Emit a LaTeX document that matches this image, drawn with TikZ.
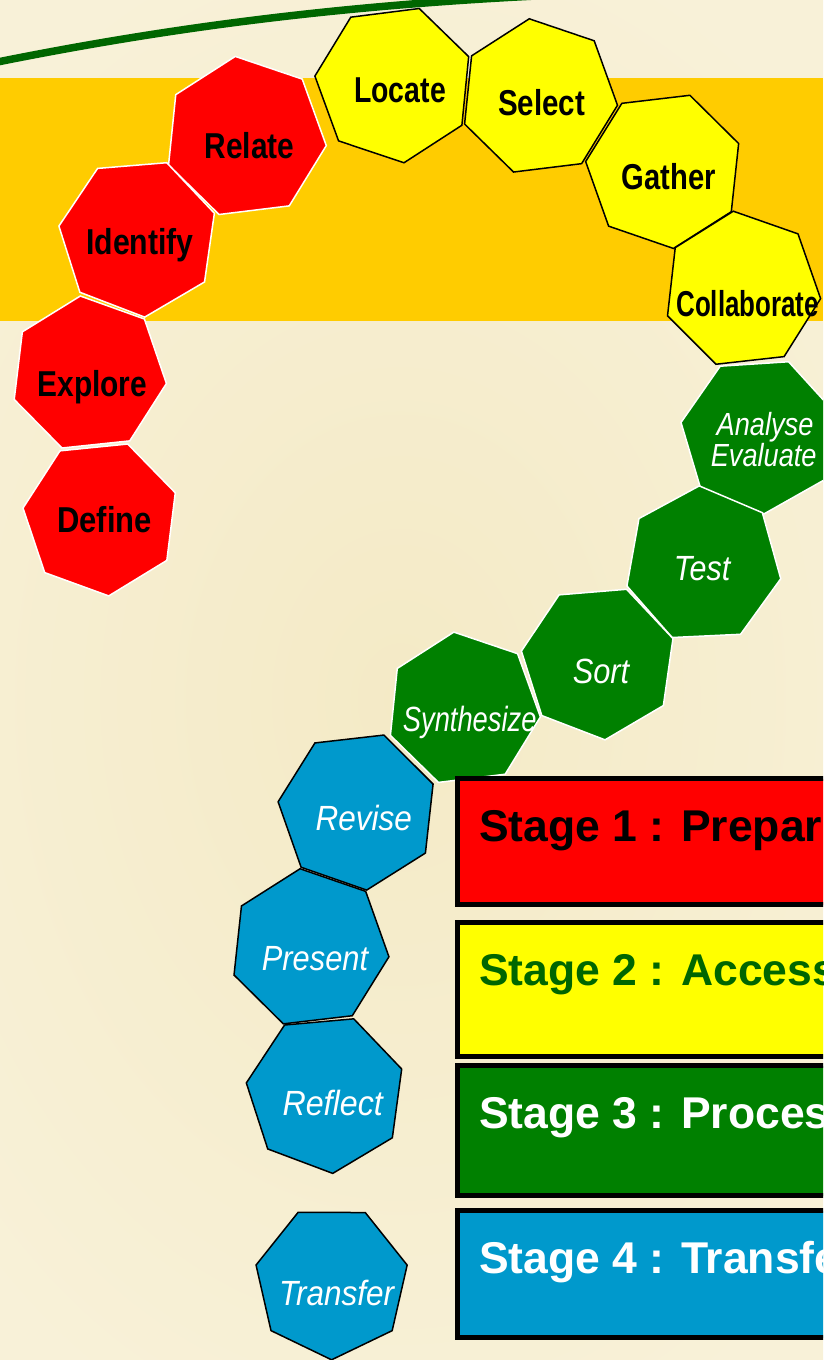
\documentclass[tikz,border=0pt]{standalone}
\usepackage{fontspec}
\setmainfont{Liberation Sans}
\usepackage{graphicx}
\usetikzlibrary{shapes.geometric}
\definecolor{bg}{RGB}{248,241,216}
\definecolor{bgin}{RGB}{244,234,198}
\definecolor{band}{RGB}{255,204,0}
\definecolor{curvegreen}{RGB}{0,102,0}
\definecolor{hred}{RGB}{255,0,0}
\definecolor{hyellow}{RGB}{255,255,0}
\definecolor{hgreen}{RGB}{0,128,0}
\definecolor{hblue}{RGB}{0,153,204}
\definecolor{darkgreentext}{RGB}{0,102,0}
\tikzset{
  hept/.style={regular polygon, regular polygon sides=7, inner sep=0pt, line width=1.5pt, line join=miter},
  prep/.style={hept, fill=hred, draw=white},
  acc/.style={hept, fill=hyellow, draw=black},
  proc/.style={hept, fill=hgreen, draw=white},
  trans/.style={hept, fill=hblue, draw=black},
  blacklab/.style={anchor=base, inner sep=0pt, font=\fontsize{36}{36}\selectfont\bfseries, text=black},
  whitelab/.style={anchor=base, inner sep=0pt, font=\fontsize{35}{35}\selectfont\itshape, text=white},
  stagebox/.style={line width=5pt, draw=black},
  stagetext/.style={anchor=base west, inner sep=0pt, font=\fontsize{44.5}{44.5}\selectfont\bfseries},
}
\begin{document}
\begin{tikzpicture}[x=1pt, y=-1pt]
\useasboundingbox (0,0) rectangle (823,1360);
\clip (0,0) rectangle (823,1360);
% background
\fill[bg] (0,0) rectangle (823,1360);
\shade[inner color=bgin, outer color=bg] (-200,-100) rectangle (1000,1500);
\fill[band] (0,78) rectangle (823,321);
% green arc
\draw[curvegreen, line width=7.5pt] (-10,63.5) .. controls (180,25) and (360,3) .. (580,-6);
% Stage 1 : preparation (red)
\node[prep, minimum size=163pt, shape border rotate=7]   (relate)   at (245.2,137.3) {};
\node[prep, minimum size=160pt, shape border rotate=-21] (identify) at (138.1,237.4) {};
\node[prep, minimum size=157pt, shape border rotate=6]   (explore)  at (88.5,374.1) {};
\node[prep, minimum size=157pt, shape border rotate=-20] (define)   at (100.9,517.8) {};
% Stage 2 : access (yellow)
\node[acc, minimum size=159pt, shape border rotate=-18.5] (locate)  at (394,83.9) {};
\node[acc, minimum size=158pt, shape border rotate=7]     (select)  at (538.9,97.2) {};
\node[acc, minimum size=158pt, shape border rotate=-19]   (gather)  at (664.2,170) {};
\node[acc, minimum size=158pt, shape border rotate=6.4]   (collab)  at (742.1,289.7) {};
% Stage 3 : process (green)
\node[proc, minimum size=158pt, shape border rotate=-22] (analyse) at (759,435) {};
\node[proc, minimum size=158pt, shape border rotate=2.7] (test)    at (703,564.8) {};
\node[proc, minimum size=156pt, shape border rotate=-21] (sort)    at (598.6,662.1) {};
\node[proc, minimum size=155pt, shape border rotate=7]   (synth)   at (463.3,709) {};
% Stage 4 : transfer (blue)
\node[trans, minimum size=160pt, shape border rotate=-19.2] (revise)   at (357.6,810.6) {};
\node[trans, minimum size=160pt, shape border rotate=6.7]   (present)  at (309.4,948.2) {};
\node[trans, minimum size=160pt, shape border rotate=-20.6] (reflect)  at (325.6,1093.7) {};
\node[trans, minimum size=155pt, shape border rotate=25.7]  (transfer) at (331.6,1282.3) {};
% labels
\node[blacklab] (relate-t)   at (249.5,158.3) {\scalebox{0.83}[1]{Relate}};
\node[blacklab] (identify-t) at (140,254)     {\scalebox{0.84}[1]{Identify}};
\node[blacklab] (explore-t)  at (92.3,396)    {\scalebox{0.83}[1]{Explore}};
\node[blacklab] (define-t)   at (104.5,532.3) {\scalebox{0.86}[1]{Define}};
\node[blacklab] (locate-t)   at (400,102.7)   {\scalebox{0.79}[1]{Locate}};
\node[blacklab] (select-t)   at (541.7,115)   {\scalebox{0.82}[1]{Select}};
\node[blacklab] (gather-t)   at (668.8,189.3) {\scalebox{0.81}[1]{Gather}};
\node[blacklab] (collab-t)   at (747.7,316)   {\scalebox{0.72}[1]{Collaborate}};
\node[whitelab, font=\fontsize{32}{32}\selectfont\itshape] (analyse-t)  at (765,435)   {\scalebox{0.85}[1]{Analyse}};
\node[whitelab, font=\fontsize{32}{32}\selectfont\itshape] (evaluate-t) at (763.7,466.7) {\scalebox{0.85}[1]{Evaluate}};
\node[whitelab] (test-t)     at (702,580)     {\scalebox{0.87}[1]{Test}};
\node[whitelab] (sort-t)     at (601,683.3)   {\scalebox{0.88}[1]{Sort}};
\node[whitelab] (synth-t)    at (469.7,731.7) {\scalebox{0.78}[1]{Synthesize}};
\node[whitelab] (revise-t)   at (363.8,830)   {\scalebox{0.9}[1]{Revise}};
\node[whitelab] (present-t)  at (315,970)     {\scalebox{0.88}[1]{Present}};
\node[whitelab] (reflect-t)  at (332.7,1115)  {\scalebox{0.92}[1]{Reflect}};
\node[whitelab] (transfer-t) at (336.7,1305)  {\scalebox{0.9}[1]{Transfer}};
% stage boxes
\path[stagebox, fill=hred]    (457.5,778.5)  rectangle (850,904.5);
\path[stagebox, fill=hyellow] (457.5,922.5)  rectangle (850,1056.5);
\path[stagebox, fill=hgreen]  (457.5,1065.5) rectangle (850,1195.5);
\path[stagebox, fill=hblue]   (457.5,1210.5) rectangle (850,1337.5);
\node[stagetext, text=black]         (s1) at (479,841.6)  {Stage 1 : Prepar};
\node[stagetext, text=darkgreentext] (s2) at (479,985.3)  {Stage 2 : Access};
\node[stagetext, text=white]         (s3) at (479,1128.2) {Stage 3 : Proces};
\node[stagetext, text=white]         (s4) at (479,1273)   {Stage 4 : Transfe};
\end{tikzpicture}
\end{document}
